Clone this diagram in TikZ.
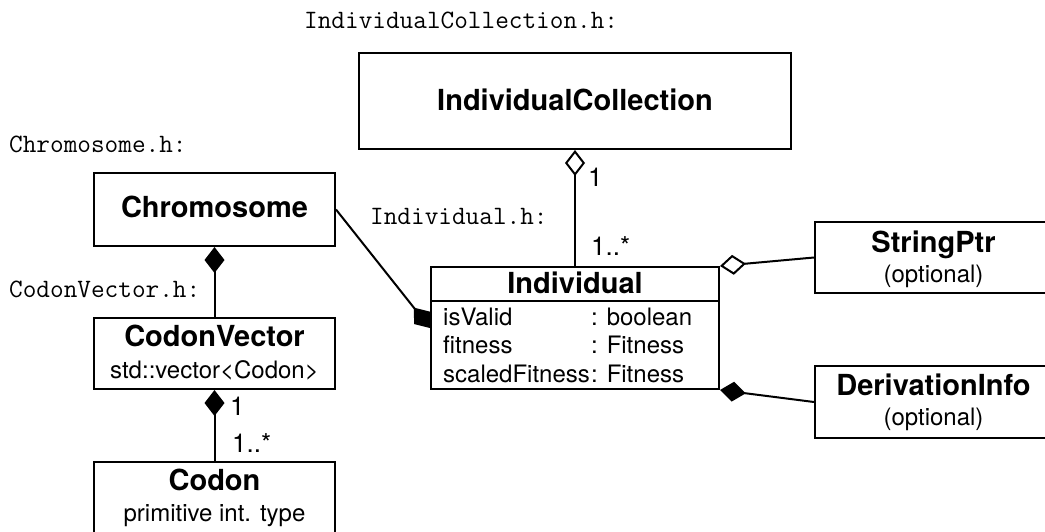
\documentclass[tikz,border=0pt]{standalone}
\usepackage{fontspec}
\setmainfont{TeX Gyre Heros}
\usetikzlibrary{arrows.meta}

\tikzset{
  classbox/.style={draw, line width=2pt, fill=white, inner sep=0pt},
  classname/.style={font=\fontsize{29}{34}\selectfont\bfseries, anchor=base, inner sep=0pt},
  classnote/.style={font=\fontsize{24}{28}\selectfont, anchor=base, inner sep=0pt},
  attr/.style={font=\fontsize{24}{28}\selectfont, anchor=base west, inner sep=0pt},
  mult/.style={font=\fontsize{26}{30}\selectfont, anchor=base west, inner sep=0pt},
  header/.style={font=\fontsize{26.5}{30}\selectfont\ttfamily, anchor=base west, inner sep=0pt},
  link/.style={line width=2pt},
  comp/.style={-{Diamond[length=26pt, width=20pt]}},
  aggr/.style={-{Diamond[length=26pt, width=20pt, fill=white]}},
}

\begin{document}
\begin{tikzpicture}[x=1pt, y=-1pt]
    \useasboundingbox (0,0) rectangle (1045,531);
    \clip (0,0) rectangle (1045,531);

    % 1. Header file names
    \node[header] (collectionh) at (304,28) {IndividualCollection.h:};
    \node[header] (chromosomeh) at (9,152) {Chromosome.h:};
    \node[header] (codonvectorh) at (9,297) {CodonVector.h:};
    \node[header] (individualh) at (370,224) {Individual.h:};

    % 2. Class boxes
    \node[classbox, minimum width=432pt, minimum height=96pt] (collection) at (575,101) {};
    \node[classname] (collectiontitle) at (575,110) {IndividualCollection};

    \node[classbox, minimum width=241pt, minimum height=73pt] (chromosome) at (214.5,209.5) {};
    \node[classname] (chromosometitle) at (214.5,217) {Chromosome};

    \node[classbox, minimum width=241pt, minimum height=71pt] (codonvector) at (214.5,353.5) {};
    \node[classname] (codonvectortitle) at (214.5,346) {CodonVector};
    \node[classnote] (codonvectornote) at (214.5,378) {std::vector\textless Codon\textgreater};

    \node[classbox, minimum width=241pt, minimum height=72pt] (codon) at (214.5,498) {};
    \node[classname] (codontitle) at (214.5,490) {Codon};
    \node[classnote] (codonnote) at (214.5,521) {primitive int. type};

    \node[classbox, minimum width=237pt, minimum height=71pt] (stringptr) at (933.5,257.5) {};
    \node[classname] (stringptrtitle) at (933.5,252) {StringPtr};
    \node[classnote] (stringptrnote) at (933.5,282) {(optional)};

    \node[classbox, minimum width=237pt, minimum height=72pt] (derivinfo) at (933.5,402) {};
    \node[classname] (derivinfotitle) at (933.5,395) {DerivationInfo};
    \node[classnote] (derivinfonote) at (933.5,425) {(optional)};

    % 3. Individual with its attributes
    \node[classbox, minimum width=288pt, minimum height=122pt] (individual) at (575,328) {};
    \draw[link] ([yshift=-35pt]individual.north west) -- ([yshift=-35pt]individual.north east);
    \node[classname] (individualtitle) at (575,293) {Individual};
    \node[attr] (isvalid) at (443,325) {isValid};
    \node[attr] (fitness) at (443,353) {fitness};
    \node[attr] (scaled) at (443,382) {scaledFitness};
    \node[attr] (isvalidtype) at (591,325) {: boolean};
    \node[attr] (fitnesstype) at (591,353) {: Fitness};
    \node[attr] (scaledtype) at (591,382) {: Fitness};

    % 4. Associations
    \draw[link, aggr] (individual.north) -- (collection.south);
    \draw[link, comp] (chromosome.east) -- (individual.west);
    \draw[link, comp] (codonvector.north) -- (chromosome.south);
    \draw[link, comp] (codon.north) -- (codonvector.south);
    \draw[link, aggr] (stringptr.west) -- (individual.north east);
    \draw[link, comp] (derivinfo.west) -- (individual.south east);

    % 5. Multiplicities
    \node[mult] (collectionone) at (588,186) {1};
    \node[mult] (individualmany) at (591,255) {1..*};
    \node[mult] (codonvectorone) at (230,415) {1};
    \node[mult] (codonmany) at (232,452) {1..*};

\end{tikzpicture}
\end{document}
